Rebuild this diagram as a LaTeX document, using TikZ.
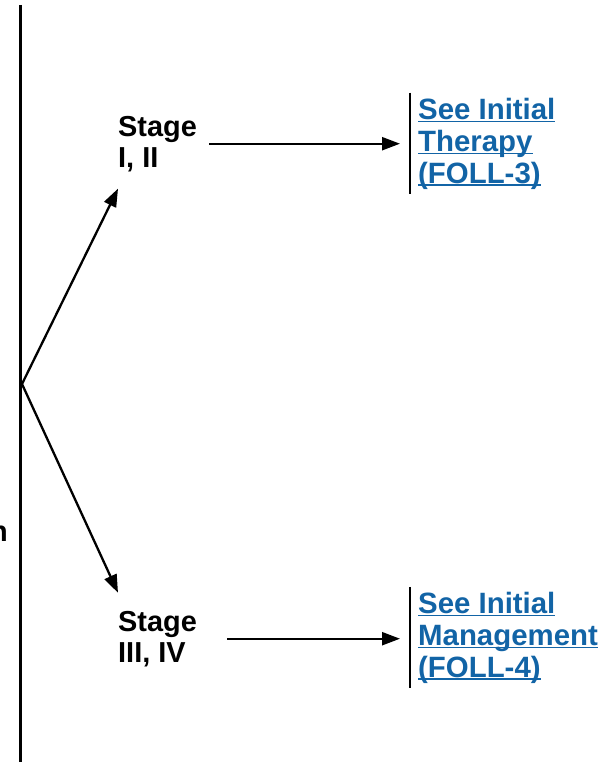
\documentclass[tikz,border=0pt]{standalone}
\usepackage{fontspec}
\setmainfont{Liberation Sans}
\usetikzlibrary{arrows.meta}
\definecolor{linkblue}{RGB}{18,100,166}
\newlength\lnkw
\newcommand\lnk[1]{\settowidth\lnkw{#1}\rlap{\rule[-3bp]{\lnkw}{1.6bp}}#1}
\tikzset{
    stage/.style={inner sep=0pt,align=left,font=\bfseries\fontsize{29}{31}\selectfont},
    target/.style={inner xsep=8bp,inner ysep=5bp,align=left,text=linkblue,font=\bfseries\fontsize{29.5}{32}\selectfont},
    bar/.style={line width=2.4bp},
    flow/.style={line width=2.3bp,-{Triangle[length=18bp,width=13bp]}}
}
\begin{document}
\begin{tikzpicture}[x=1bp,y=-1bp]
    \useasboundingbox (0,0) rectangle (605,762);
    \draw[line width=2.4bp] (20.5,5) -- (20.5,762);
    \node[stage,anchor=base east] (cut) at (8,541) {n};
    \coordinate (br) at (22,384);
    % last line baselines
    \node[stage,anchor=base west] (s12) at (118,167) {Stage\\I, II};
    \node[stage,anchor=base west] (s34) at (118,662) {Stage\\III, IV};
    \node[target,anchor=base west] (foll3) at (410,183) {\lnk{See Initial}\\\lnk{Therapy}\\\lnk{(FOLL-3)}};
    \node[target,anchor=base west] (foll4) at (410,677) {\lnk{See Initial}\\\lnk{Management}\\\lnk{(FOLL-4)}};
    \draw[bar] (foll3.north west) -- (foll3.south west);
    \draw[bar] (foll4.north west) -- (foll4.south west);
    \draw[flow] (br) -- ([yshift=-17bp]s12.south west);
    \draw[flow] (br) -- ([yshift=18bp]s34.north west);
    \draw[flow,shorten <=12bp,shorten >=10bp] (s12.east) -- (s12.east -| foll3.west);
    \draw[flow,shorten <=30bp,shorten >=10bp] (s34.east) -- (s34.east -| foll4.west);
\end{tikzpicture}
\end{document}
